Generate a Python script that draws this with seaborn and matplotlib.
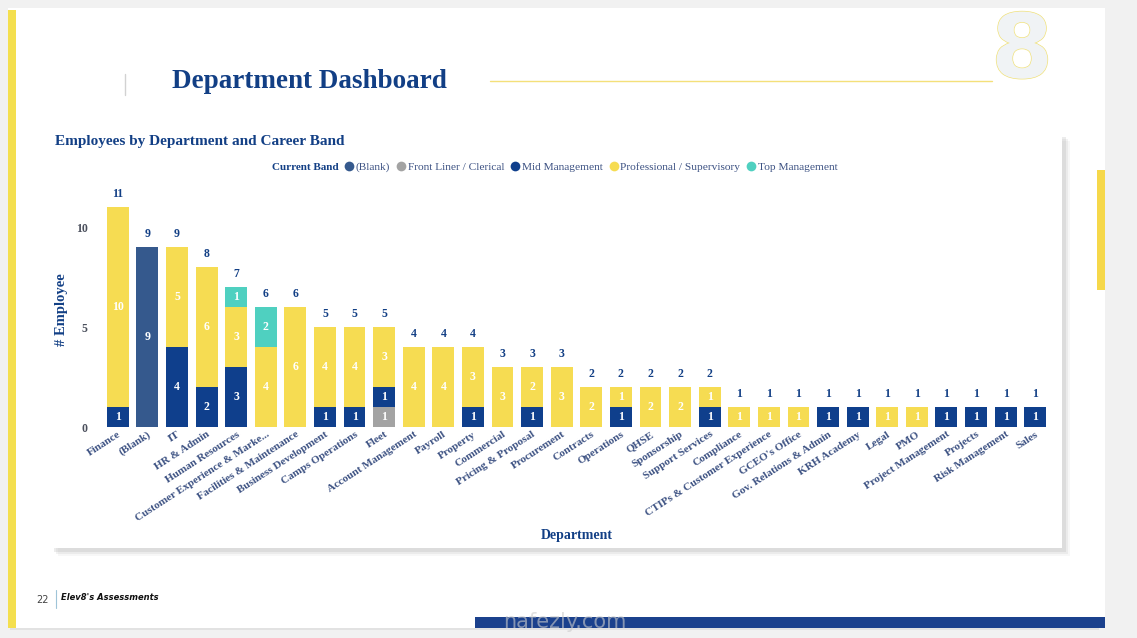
import numpy as np
import pandas as pd
import matplotlib
matplotlib.use("Agg")
import matplotlib.pyplot as plt
import seaborn as sns
from matplotlib.patches import Rectangle
from matplotlib.lines import Line2D
import matplotlib.patheffects as pe

# ---------------- data ----------------
departments = [
    "Finance", "(Blank)", "IT", "HR & Admin", "Human Resources",
    "Customer Experience & Marke...", "Facilities & Maintenance",
    "Business Development", "Camps Operations", "Fleet",
    "Account Management", "Payroll", "Property", "Commercial",
    "Pricing & Proposal", "Procurement", "Contracts", "Operations",
    "QHSE", "Sponsorship", "Support Services", "Compliance",
    "CTIPs & Customer Experience", "GCEO's Office", "Gov. Relations & Admin",
    "KRH Academy", "Legal", "PMO", "Project Management", "Projects",
    "Risk Management", "Sales",
]
blank =        [0, 9, 0, 0, 0, 0, 0, 0, 0, 0, 0, 0, 0, 0, 0, 0, 0, 0, 0, 0, 0, 0, 0, 0, 0, 0, 0, 0, 0, 0, 0, 0]
front_liner =  [0, 0, 0, 0, 0, 0, 0, 0, 0, 1, 0, 0, 0, 0, 0, 0, 0, 0, 0, 0, 0, 0, 0, 0, 0, 0, 0, 0, 0, 0, 0, 0]
mid_mgmt =     [1, 0, 4, 2, 3, 0, 0, 1, 1, 1, 0, 0, 1, 0, 1, 0, 0, 1, 0, 0, 1, 0, 0, 0, 1, 1, 0, 0, 1, 1, 1, 1]
professional = [10, 0, 5, 6, 3, 4, 6, 4, 4, 3, 4, 4, 3, 3, 2, 3, 2, 1, 2, 2, 1, 1, 1, 1, 0, 0, 1, 1, 0, 0, 0, 0]
top_mgmt =     [0, 0, 0, 0, 1, 2, 0, 0, 0, 0, 0, 0, 0, 0, 0, 0, 0, 0, 0, 0, 0, 0, 0, 0, 0, 0, 0, 0, 0, 0, 0, 0]

band_names = ["(Blank)", "Front Liner / Clerical", "Mid Management",
              "Professional / Supervisory", "Top Management"]
band_colors = ["#35598d", "#a3a3a3", "#0f3f8c", "#f6dc52", "#4fd0c0"]

W, H = 1137, 638
NAVY = "#123f85"
TICK = "#3d5283"


def fx(x):
    return x / W


def fy(y):
    return 1 - y / H


sns.set_theme(style="white")
plt.rcParams["font.family"] = ["Liberation Serif", "DejaVu Serif"]

fig = plt.figure(figsize=(W / 100, H / 100), dpi=100)
fig.patch.set_facecolor("#f1f1f1")

# slide background
fig.patches.append(Rectangle((fx(10), fy(630)), fx(1099) - fx(10), fy(9) - fy(630),
                             transform=fig.transFigure, facecolor="#e2e2e2",
                             edgecolor="none", zorder=0))
fig.patches.append(Rectangle((fx(8), fy(628)), fx(1105) - fx(8), fy(8) - fy(628),
                             transform=fig.transFigure, facecolor="white",
                             edgecolor="none", zorder=0.1))
fig.patches.append(Rectangle((fx(8), fy(628)), fx(16) - fx(8), fy(10) - fy(628),
                             transform=fig.transFigure, facecolor="#f4df4e",
                             edgecolor="none", zorder=0.2))
fig.patches.append(Rectangle((fx(1097), fy(290)), fx(1105) - fx(1097), fy(170) - fy(290),
                             transform=fig.transFigure, facecolor="#f6d84a",
                             edgecolor="none", zorder=0.2))
fig.patches.append(Rectangle((fx(475), fy(628)), fx(1105) - fx(475), fy(617) - fy(628),
                             transform=fig.transFigure, facecolor="#1b418d",
                             edgecolor="none", zorder=0.2))

# big decorative "8"
fig.text(fx(1022), fy(53), "8", fontsize=64, ha="center", va="center",
         color="#f0f3f5", family="DejaVu Sans", fontweight="bold", zorder=0.15,
         path_effects=[pe.withStroke(linewidth=1.0, foreground="#f1e27c")])

# header
fig.text(fx(172), fy(81), "Department Dashboard", fontsize=19.5, fontweight="bold",
         color=NAVY, va="center", ha="left")
fig.add_artist(Line2D([fx(125), fx(125)], [fy(74), fy(95)], color="#d2d2d2", lw=1,
                      transform=fig.transFigure))
fig.add_artist(Line2D([fx(490), fx(992)], [fy(81), fy(81)], color="#f4e07a", lw=1,
                      transform=fig.transFigure))

# footer
fig.text(fx(36), fy(600), "22", fontsize=7, color="#444444", va="center",
         family="DejaVu Sans")
fig.add_artist(Line2D([fx(56), fx(56)], [fy(590), fy(608)], color="#9fc4d8", lw=0.8,
                      transform=fig.transFigure))
fig.text(fx(61), fy(597), "Elev8's Assessments", fontsize=6, color="#111111",
         fontweight="bold", style="italic", va="center", family="DejaVu Sans")
fig.text(fx(565), fy(622), "nafezly.com", fontsize=15, color="#cccccc", ha="center",
         va="center", family="DejaVu Sans", alpha=0.6, zorder=3)

# chart card with shadow
for off, a in [(8, 0.08), (6, 0.12), (4, 0.18)]:
    fig.patches.append(Rectangle((fx(50 + off), fy(548 + off)), fx(1062) - fx(50),
                                 fy(133) - fy(548), transform=fig.transFigure,
                                 facecolor="#9a9a9a", alpha=a, edgecolor="none",
                                 zorder=0.5))
fig.patches.append(Rectangle((fx(50), fy(548)), fx(1062) - fx(50), fy(133) - fy(548),
                             transform=fig.transFigure, facecolor="white",
                             edgecolor="none", zorder=0.6))
fig.text(fx(55), fy(142), "Employees by Department and Career Band", fontsize=11,
         fontweight="bold", color=NAVY, va="center", ha="left")

# ---------------- stacked bars ----------------
ax = fig.add_axes([fx(103), fy(427), (1050 - 103) / W, (427 - 187) / H])
ax.set_facecolor("none")
ax.set_zorder(2)

df = pd.DataFrame({"Department": departments, "(Blank)": blank,
                   "Front Liner / Clerical": front_liner,
                   "Mid Management": mid_mgmt,
                   "Professional / Supervisory": professional,
                   "Top Management": top_mgmt})

bottom = np.zeros(len(departments))
for name, col in zip(band_names, band_colors):
    vals = df[name].to_numpy(dtype=float)
    sns.barplot(data=df, x="Department", y=name, order=departments, color=col,
                bottom=bottom, width=0.74, ax=ax, saturation=1, linewidth=0)
    for i, v in enumerate(vals):
        if v > 0:
            ax.text(i, bottom[i] + v / 2, f"{int(v)}", ha="center", va="center",
                    fontsize=8.5, fontweight="bold", color="white")
    bottom = bottom + vals

totals = bottom
for i, t in enumerate(totals):
    ax.annotate(f"{int(t)}", (i, t), xytext=(0, 5), textcoords="offset points",
                ha="center", va="bottom", fontsize=8.5, fontweight="bold",
                color=NAVY)

ax.set_xlim(-0.5, len(departments) - 0.5)
ax.set_ylim(0, 12)
ax.set_yticks([0, 5, 10])
ax.set_yticklabels(["0", "5", "10"], fontsize=8.5, fontweight="bold", color="#4a4f5c")
ax.tick_params(axis="y", length=0, pad=11)
ax.tick_params(axis="x", length=0, pad=2)
ax.set_xticks(range(len(departments)))
ax.set_xticklabels(departments, rotation=33, ha="right", rotation_mode="anchor",
                   fontsize=8, fontweight="bold", color=TICK)
for s in ax.spines.values():
    s.set_visible(False)
ax.grid(False)
ax.set_xlabel("")
ax.set_ylabel("")

fig.text(fx(61), fy(310), "# Employee", rotation=90, fontsize=10.5, fontweight="bold",
         color=NAVY, ha="center", va="center")
fig.text(fx(577), fy(535), "Department", fontsize=10, fontweight="bold",
         color=NAVY, ha="center", va="center")

# legend
fig.text(fx(272), fy(167), "Current Band", fontsize=8, fontweight="bold", color=NAVY,
         ha="left", va="center")
handles = [Line2D([0], [0], marker="o", color="none", markerfacecolor=c,
                  markeredgecolor="none", markersize=7, label=n)
           for n, c in zip(band_names, band_colors)]
leg = fig.legend(handles=handles, loc="center left", bbox_to_anchor=(fx(342), fy(167)),
                 ncol=5, frameon=False, fontsize=8.2, handletextpad=0.0,
                 columnspacing=0.35, handlelength=1.2, borderpad=0, borderaxespad=0)
for t in leg.get_texts():
    t.set_color(TICK)

fig.savefig("out.png", dpi=100, facecolor=fig.get_facecolor())
